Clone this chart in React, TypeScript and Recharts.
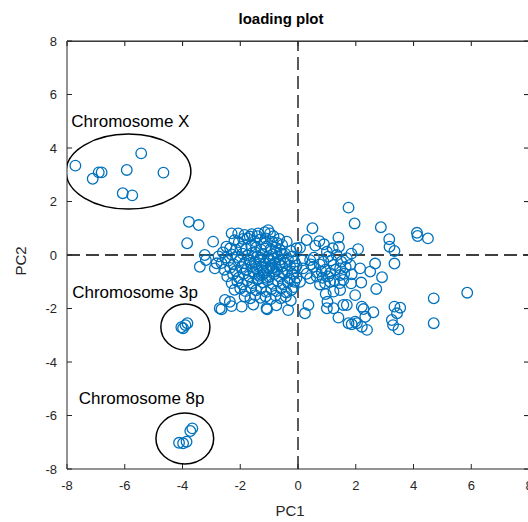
import React from "react"
import { ScatterChart, Scatter, XAxis, YAxis, ReferenceLine } from "recharts"

// PC loadings, [PC1, PC2]
const chromosomeX: [number, number][] = [
  [-7.71, 3.34], [-7.11, 2.85], [-6.9, 3.09], [-6.8, 3.09], [-5.93, 3.18],
  [-5.43, 3.8], [-4.66, 3.08], [-6.07, 2.31], [-5.74, 2.23],
]

const chromosome3p: [number, number][] = [
  [-3.98, -2.74], [-3.9, -2.62], [-3.83, -2.55], [-4.04, -2.7],
]

const chromosome8p: [number, number][] = [
  [-4.12, -7.02], [-3.98, -7.04], [-3.86, -6.98], [-3.73, -6.58], [-3.66, -6.48],
]

const leftCluster: [number, number][] = [
  [-3.78, 1.24], [-3.44, 1.12], [-3.84, 0.44], [-2.94, 0.5], [-3.23, 0.0],
  [-3.19, -0.19], [-3.4, -0.44], [-2.82, -0.31], [-2.88, -0.5],
  [-2.3, 0.81], [-2.07, 0.81], [-1.85, 0.75], [-1.6, 0.78], [-1.38, 0.81],
  [-1.15, 0.85], [-1.03, 0.93], [-0.97, 0.81], [-0.85, 0.7], [-1.75, 0.62],
  [-2.48, 0.31], [-2.2, 0.55], [-2.05, 0.48], [-1.9, 0.6], [-1.67, 0.69],
  [-1.5, 0.52], [-1.3, 0.58], [-1.12, 0.62], [-0.9, 0.5], [-0.72, 0.45],
  [-0.55, 0.38], [-0.39, 0.5], [-0.25, 0.15],
  [-2.6, 0.1], [-2.35, 0.25], [-2.15, 0.2], [-1.95, 0.3], [-1.8, 0.22],
  [-1.62, 0.35], [-1.45, 0.28], [-1.28, 0.2], [-1.1, 0.32], [-0.95, 0.22],
  [-0.78, 0.28], [-0.62, 0.18], [-0.45, 0.05], [-0.2, -0.05],
  [-2.75, -0.05], [-2.5, -0.1], [-2.3, 0.02], [-2.1, -0.08], [-1.92, 0.05],
  [-1.75, -0.02], [-1.58, 0.08], [-1.4, -0.05], [-1.22, 0.04], [-1.05, -0.08],
  [-0.88, 0.02], [-0.7, -0.06], [-0.55, 0.05], [-0.35, -0.15], [-0.12, -0.25],
  [-2.65, -0.3], [-2.42, -0.22], [-2.22, -0.35], [-2.02, -0.2], [-1.85, -0.3],
  [-1.68, -0.18], [-1.5, -0.28], [-1.33, -0.2], [-1.15, -0.32], [-0.98, -0.22],
  [-0.8, -0.3], [-0.62, -0.18], [-0.45, -0.3], [-0.28, -0.4], [-0.1, -0.5],
  [-2.55, -0.55], [-2.35, -0.48], [-2.15, -0.6], [-1.95, -0.45], [-1.78, -0.55],
  [-1.6, -0.42], [-1.42, -0.52], [-1.25, -0.45], [-1.08, -0.58], [-0.9, -0.48],
  [-0.72, -0.55], [-0.55, -0.42], [-0.38, -0.6], [-0.2, -0.7], [-0.05, -0.85],
  [-2.45, -0.8], [-2.25, -0.72], [-2.05, -0.85], [-1.88, -0.7], [-1.7, -0.8],
  [-1.52, -0.68], [-1.35, -0.78], [-1.18, -0.7], [-1.0, -0.82], [-0.82, -0.72],
  [-0.65, -0.8], [-0.48, -0.7], [-0.3, -0.88], [-0.12, -1.0],
  [-2.3, -1.05], [-2.1, -0.98], [-1.92, -1.1], [-1.75, -0.95], [-1.58, -1.05],
  [-1.4, -0.92], [-1.22, -1.02], [-1.05, -0.95], [-0.88, -1.08], [-0.7, -0.98],
  [-0.52, -1.1], [-0.35, -1.02], [-0.15, -1.2],
  [-2.2, -1.3], [-2.0, -1.25], [-1.82, -1.35], [-1.62, -1.22], [-1.45, -1.32],
  [-1.28, -1.25], [-1.1, -1.38], [-0.92, -1.28], [-0.75, -1.35], [-0.58, -1.25],
  [-0.4, -1.4], [-0.22, -1.3],
  [-2.53, -1.68], [-2.36, -1.75], [-1.85, -1.55], [-1.65, -1.62], [-1.48, -1.5],
  [-1.3, -1.6], [-1.12, -1.55], [-0.95, -1.65], [-0.78, -1.52], [-0.6, -1.62],
  [-0.42, -1.55], [-0.25, -1.7],
  [-2.71, -1.99], [-2.3, -1.91], [-1.95, -1.93], [-1.55, -1.85], [-1.09, -1.99],
  [-0.75, -1.88], [-0.34, -2.06], [-2.65, -2.03], [-1.07, -2.03],
  [-1.45, -0.35], [-1.2, -0.6], [-0.95, -0.4], [-1.3, -0.1], [-1.0, -0.15],
  [-0.8, -0.62], [-1.55, -0.62], [-1.1, -0.85], [-0.65, -0.35], [-1.38, -0.88],
  [-0.85, -0.15], [-1.65, -0.3], [-1.25, -0.75], [-0.55, -0.65], [-1.0, -0.5],
  [-1.48, 0.1], [-0.75, 0.1], [-1.18, 0.42], [-0.65, 0.6], [-1.4, 0.7],
]

const rightCluster: [number, number][] = [
  [1.75, 1.77], [1.96, 1.18], [2.87, 1.04], [4.12, 0.83], [4.14, 0.71],
  [4.5, 0.62], [0.5, 1.0], [3.16, 0.59], [3.17, 0.31], [3.34, 0.15],
  [3.34, -0.32], [2.67, -0.32], [2.5, -0.62], [2.91, -0.83], [2.71, -1.27],
  [2.08, 0.22], [1.4, 0.65], [1.42, 0.31], [0.74, 0.52], [0.3, 0.56],
  [0.07, 0.27], [2.15, -0.5], [2.19, -1.03], [1.84, -1.06],
  [4.7, -1.62], [5.86, -1.41], [4.7, -2.55],
  [3.34, -1.93], [3.54, -1.97], [3.43, -2.18], [3.25, -2.43], [3.29, -2.62],
  [3.48, -2.78], [2.61, -2.14], [2.27, -2.02], [2.39, -2.8], [2.04, -2.55],
  [1.86, -2.59], [1.98, -2.49], [1.57, -1.87], [1.69, -1.87], [1.4, -2.34],
  [1.02, -1.75], [1.0, -1.99], [1.23, -1.99], [0.36, -1.87], [0.24, -2.18],
  [2.21, -1.93], [0.96, -1.46], [1.23, -1.37], [1.46, -1.31], [1.11, -1.0],
  [1.57, -0.93], [1.86, -0.72], [1.81, -0.37], [1.69, -0.12], [1.34, 0.0],
  [0.88, -0.25], [0.53, -0.44], [0.42, -0.87], [0.65, -0.81], [0.82, -0.62],
  [1.11, -0.68], [1.23, -0.37], [1.46, -0.5], [1.46, -0.75], [0.94, -1.06],
  [0.76, -1.1], [-0.05, -0.4], [0.18, -0.5], [0.07, -1.0], [1.0, 0.12],
  [1.05, -0.06], [0.42, -0.19], [-0.05, 0.25], [1.98, -1.5], [2.33, -2.31],
  [2.21, -2.68], [1.75, -2.55],
  [0.55, -0.1], [0.75, -0.35], [0.95, -0.55], [1.15, -0.2], [1.3, -0.55],
  [1.5, -0.25], [1.65, -0.45], [0.65, -0.65], [0.85, -0.85], [1.05, -0.8],
  [1.25, -0.95], [1.45, -1.05], [1.6, -0.7], [0.45, -0.35], [0.3, -0.7],
  [0.15, -0.2], [1.85, 0.05], [1.2, 0.25], [0.6, 0.35], [0.9, 0.4],
]

const xTicks = [-8, -6, -4, -2, 0, 2, 4, 6, 8]
const yTicks = [-8, -6, -4, -2, 0, 2, 4, 6, 8]

const regionNames = ["Chromosome X", "Chromosome 3p", "Chromosome 8p"]
const regionCenters: [number, number][] = [[-5.87, 3.12], [-3.9, -2.69], [-3.92, -6.86]]
const regionRadii: [number, number][] = [[2.16, 1.4], [0.85, 0.86], [1.0, 0.95]]
const labelAnchors: [number, number][] = [[-7.85, 5.0], [-7.82, -1.37], [-7.59, -5.36]]

const CHART_W = 531
const CHART_H = 522
const MARGIN = { top: 41, right: 2, bottom: 0, left: 0 }
const Y_AXIS_W = 67
const X_AXIS_H = 53
const PLOT_X = MARGIN.left + Y_AXIS_W
const PLOT_Y = MARGIN.top
const PLOT_W = CHART_W - MARGIN.left - MARGIN.right - Y_AXIS_W
const PLOT_H = CHART_H - MARGIN.top - MARGIN.bottom - X_AXIS_H
const X_MIN = xTicks[0]
const X_MAX = xTicks[xTicks.length - 1]
const Y_MIN = yTicks[0]
const Y_MAX = yTicks[yTicks.length - 1]
const PX_X = PLOT_W / (X_MAX - X_MIN)
const PX_Y = PLOT_H / (Y_MAX - Y_MIN)

const BLUE = "#0072BD"
const AXIS = "#262626"
const FONT = '"Liberation Sans", Arial, Helvetica, sans-serif'

const points = [...chromosomeX, ...chromosome3p, ...chromosome8p, ...leftCluster, ...rightCluster].map(
  ([x, y]) => ({ x, y })
)

const regions = regionNames.map((name, i) => ({
  name,
  x: regionCenters[i][0],
  y: regionCenters[i][1],
  rx: regionRadii[i][0],
  ry: regionRadii[i][1],
}))

const labels = regionNames.map((name, i) => ({ name, x: labelAnchors[i][0], y: labelAnchors[i][1] }))

function renderCircle(props: any) {
  return <circle cx={props.cx} cy={props.cy} r={5.3} fill="none" stroke={BLUE} strokeWidth={1.3} />
}

function renderEllipse(props: any) {
  const p = props.payload
  return (
    <ellipse
      cx={props.cx}
      cy={props.cy}
      rx={p.rx * PX_X}
      ry={p.ry * PX_Y}
      fill="none"
      stroke="#000"
      strokeWidth={1.5}
    />
  )
}

function renderLabel(props: any) {
  return (
    <text x={props.cx} y={props.cy} dy="0.35em" fontSize={17} fill="#000" fontFamily={FONT}>
      {props.payload.name}
    </text>
  )
}

// top edge of the box and inward ticks on top/right sides
function BoxFrame() {
  const right = PLOT_X + PLOT_W
  return (
    <svg
      width={CHART_W}
      height={CHART_H}
      style={{ position: "absolute", left: 0, top: 0, pointerEvents: "none", zIndex: 5, overflow: "visible" }}
    >
      <rect x={PLOT_X} y={PLOT_Y - 0.5} width={PLOT_W} height={1.4} fill={AXIS} />
      {xTicks.map((t) => {
        const x = PLOT_X + (t - X_MIN) * PX_X
        return <rect key={"t" + t} x={x - 0.5} y={PLOT_Y} width={1.1} height={5} fill={AXIS} />
      })}
      {yTicks.map((t) => {
        const y = PLOT_Y + (Y_MAX - t) * PX_Y
        return <rect key={"r" + t} x={right - 5} y={y - 0.5} width={5} height={1.1} fill={AXIS} />
      })}
    </svg>
  )
}

export default function App() {
  return (
    <div
      style={{
        position: "absolute",
        left: 0,
        top: 0,
        width: 528,
        height: 522,
        overflow: "hidden",
        background: "#fff",
        fontFamily: FONT,
      }}
    >
      <ScatterChart width={CHART_W} height={CHART_H} margin={MARGIN}>
        <XAxis
          type="number"
          dataKey="x"
          domain={[X_MIN, X_MAX]}
          ticks={xTicks}
          interval={0}
          height={X_AXIS_H}
          tickSize={-5}
          tickMargin={17}
          stroke={AXIS}
          tick={{ fill: AXIS, fontSize: 13, fontFamily: FONT }}
          allowDataOverflow
        />
        <YAxis
          type="number"
          dataKey="y"
          domain={[Y_MIN, Y_MAX]}
          ticks={yTicks}
          interval={0}
          width={Y_AXIS_W}
          tickSize={-5}
          tickMargin={15}
          stroke={AXIS}
          tick={{ fill: AXIS, fontSize: 13, fontFamily: FONT }}
          allowDataOverflow
        />
        <ReferenceLine x={0} stroke="#333" strokeWidth={1.6} strokeDasharray="13 6" />
        <ReferenceLine y={0} stroke="#000" strokeWidth={1.6} strokeDasharray="13 6" />
        <Scatter data={points} shape={renderCircle} isAnimationActive={false} />
        <Scatter data={regions} shape={renderEllipse} isAnimationActive={false} />
        <Scatter data={labels} shape={renderLabel} isAnimationActive={false} />
      </ScatterChart>
      <BoxFrame />
      <div style={{ position: "absolute", left: 281, top: 11, transform: "translateX(-50%)", fontSize: 15, fontWeight: "bold", lineHeight: 1, whiteSpace: "nowrap", color: "#000" }}>
        loading plot
      </div>
      <div style={{ position: "absolute", left: 290, top: 503, transform: "translateX(-50%)", fontSize: 15, lineHeight: 1, color: AXIS }}>
        PC1
      </div>
      <div style={{ position: "absolute", left: 20, top: 261, transform: "translate(-50%, -50%) rotate(-90deg)", fontSize: 15, lineHeight: 1, color: AXIS }}>
        PC2
      </div>
    </div>
  )
}
